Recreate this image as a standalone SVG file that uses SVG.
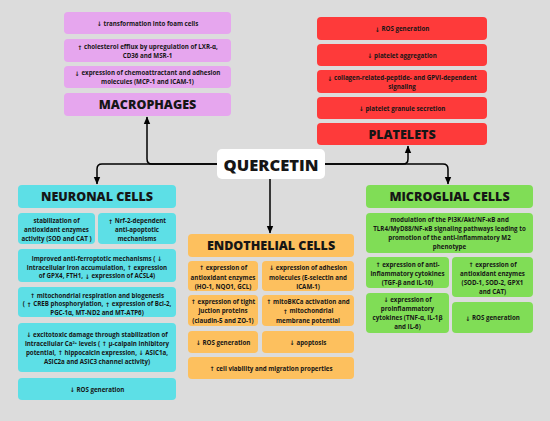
<svg xmlns="http://www.w3.org/2000/svg" width="550" height="421" viewBox="0 0 550 421">
<defs>
<style>
.bg{fill:#dcdcdc}
.mac{fill:#e6a6ee}
.pla{fill:#fe3a3a}
.neu{fill:#5ddfe6}
.end{fill:#fdc05e}
.mic{fill:#80dd56}
.qb{fill:#ffffff}
text{font-family:"Open Sans","Liberation Sans",sans-serif;fill:#161616;text-anchor:middle;dominant-baseline:central}
.t{font-size:6.2px;font-weight:700}
.a{font-family:"DejaVu Sans",sans-serif;font-weight:700}
.h{font-size:12.5px;font-weight:800}
.q{font-size:16.5px;font-weight:800}
.c{fill:none;stroke:#000;stroke-width:1.5}
</style>
<marker id="ah" markerUnits="userSpaceOnUse" markerWidth="8" markerHeight="8" viewBox="0 0 8 8" refX="7" refY="4" orient="auto">
<path d="M0,0.8 L7.5,4 L0,7.2 Z" fill="#000"/>
</marker>
</defs>
<rect class="bg" x="0" y="0" width="550" height="421"/>

<g id="connectors">
<path class="c" d="M217,164 H102 Q97,164 97,169 V184" marker-end="url(#ah)"/>
<path class="c" d="M217,164 H152 Q147,164 147,159 V117" marker-end="url(#ah)"/>
<path class="c" d="M325,164 H403 Q408,164 408,159 V146" marker-end="url(#ah)"/>
<path class="c" d="M325,164 H443 Q448,164 448,169 V184" marker-end="url(#ah)"/>
<path class="c" d="M270,179 V233" marker-end="url(#ah)"/>
</g>

<g id="quercetin">
<rect class="qb" x="217" y="149" width="108" height="30" rx="5"/>
<text class="q" x="271" y="164.5">QUERCETIN</text>
</g>

<g id="macrophages">
<rect class="mac" x="64" y="12" width="167" height="22" rx="4"/>
<text class="t" x="147.5" y="23"><tspan class="a">↓</tspan> transformation into foam cells</text>
<rect class="mac" x="64" y="39" width="167" height="23" rx="4"/>
<text class="t" x="147.5" y="46.5"><tspan class="a">↑</tspan> cholesterol efflux by upregulation of LXR-α,</text>
<text class="t" x="147.5" y="55.2">CD36 and MSR-1</text>
<rect class="mac" x="64" y="66" width="167" height="22" rx="4"/>
<text class="t" x="147.5" y="72.7"><tspan class="a">↓</tspan> expression of chemoattractant and adhesion</text>
<text class="t" x="147.5" y="81.5">molecules (MCP-1 and ICAM-1)</text>
<rect class="mac" x="64" y="93" width="167" height="23" rx="4"/>
<text class="h" x="147.5" y="104.5">MACROPHAGES</text>
</g>

<g id="platelets">
<rect class="pla" x="317" y="17" width="170" height="23" rx="4"/>
<text class="t" x="402" y="28.5"><tspan class="a">↓</tspan> ROS generation</text>
<rect class="pla" x="317" y="44" width="170" height="22" rx="4"/>
<text class="t" x="402" y="55"><tspan class="a">↓</tspan> platelet aggregation</text>
<rect class="pla" x="317" y="70" width="170" height="23" rx="4"/>
<text class="t" x="402" y="77.7"><tspan class="a">↓</tspan> collagen-related-peptide- and GPVI-dependent</text>
<text class="t" x="402" y="86.5">signaling</text>
<rect class="pla" x="317" y="97" width="170" height="22" rx="4"/>
<text class="t" x="402" y="108"><tspan class="a">↓</tspan> platelet granule secretion</text>
<rect class="pla" x="317" y="123" width="170" height="22" rx="4"/>
<text class="h" x="402" y="134">PLATELETS</text>
</g>

<g id="neuronal">
<rect class="neu" x="18" y="185" width="158" height="23" rx="4"/>
<text class="h" x="97" y="196.5">NEURONAL CELLS</text>
<rect class="neu" x="18" y="213" width="77" height="31" rx="4"/>
<text class="t" x="56.5" y="220.5">stabilization of</text>
<text class="t" x="56.5" y="229.3">antioxidant enzymes</text>
<text class="t" x="56.5" y="238.1">activity (SOD and CAT )</text>
<rect class="neu" x="98" y="213" width="78" height="31" rx="4"/>
<text class="t" x="137" y="220.5"><tspan class="a">↑</tspan> Nrf-2-dependent</text>
<text class="t" x="137" y="229.3">anti-apoptotic</text>
<text class="t" x="137" y="238.1">mechanisms</text>
<rect class="neu" x="18" y="249" width="158" height="33" rx="4"/>
<text class="t" x="97" y="258.3">improved anti-ferroptotic mechanisms ( <tspan class="a">↓</tspan></text>
<text class="t" x="97" y="267">intracellular iron accumulation,  <tspan class="a">↑</tspan>  expression</text>
<text class="t" x="97" y="275.7">of GPX4, FTH1,  <tspan class="a">↓</tspan>  expression of ACSL4)</text>
<rect class="neu" x="18" y="287" width="158" height="30" rx="4"/>
<text class="t" x="97" y="295"><tspan class="a">↑</tspan> mitochondrial respiration and biogenesis</text>
<text class="t" x="97" y="303.8">( <tspan class="a">↑</tspan> CREB phosphorylation,  <tspan class="a">↑</tspan>  expression of Bcl-2,</text>
<text class="t" x="97" y="312.6">PGC-1α, MT-ND2 and MT-ATP6)</text>
<rect class="neu" x="18" y="323" width="158" height="49" rx="4"/>
<text class="t" x="97" y="334"><tspan class="a">↓</tspan> excitotoxic damage through stabilization of</text>
<text class="t" x="97" y="343">intracellular Ca²⁺ levels ( <tspan class="a">↑</tspan>  μ-calpain inhibitory</text>
<text class="t" x="97" y="352.2">potential,  <tspan class="a">↑</tspan>  hippocalcin expression, <tspan class="a">↓</tspan> ASIC1a,</text>
<text class="t" x="97" y="361.4">ASIC2a and ASIC3 channel activity)</text>
<rect class="neu" x="18" y="378" width="158" height="22" rx="4"/>
<text class="t" x="97" y="389"><tspan class="a">↓</tspan> ROS generation</text>
</g>

<g id="endothelial">
<rect class="end" x="188" y="234" width="166" height="23" rx="4"/>
<text class="h" x="271" y="245.5">ENDOTHELIAL CELLS</text>
<rect class="end" x="188" y="261" width="70" height="30" rx="4"/>
<text class="t" x="223" y="267.3"><tspan class="a">↑</tspan> expression of</text>
<text class="t" x="223" y="277">antioxidant enzymes</text>
<text class="t" x="223" y="286.5">(HO-1, NQO1, GCL)</text>
<rect class="end" x="262" y="261" width="92" height="30" rx="4"/>
<text class="t" x="308" y="267.3"><tspan class="a">↓</tspan> expression of adhesion</text>
<text class="t" x="308" y="277">molecules (E-selectin and</text>
<text class="t" x="308" y="286.5">ICAM-1)</text>
<rect class="end" x="188" y="295" width="70" height="31" rx="4"/>
<text class="t" x="223" y="301"><tspan class="a">↑</tspan> expression of tight</text>
<text class="t" x="223" y="310.7">juction proteins</text>
<text class="t" x="223" y="320.4">(claudin-5 and ZO-1)</text>
<rect class="end" x="262" y="295" width="92" height="31" rx="4"/>
<text class="t" x="308" y="301"><tspan class="a">↑</tspan> mitoBKCa activation and</text>
<text class="t" x="308" y="310.7"><tspan class="a">↑</tspan>  mitochondrial</text>
<text class="t" x="308" y="320.4">membrane potential</text>
<rect class="end" x="188" y="331" width="70" height="22" rx="4"/>
<text class="t" x="223" y="342"><tspan class="a">↓</tspan> ROS generation</text>
<rect class="end" x="262" y="331" width="92" height="22" rx="4"/>
<text class="t" x="308" y="342"><tspan class="a">↓</tspan> apoptosis</text>
<rect class="end" x="188" y="357" width="166" height="22" rx="4"/>
<text class="t" x="271" y="368"><tspan class="a">↑</tspan> cell viability and migration properties</text>
</g>

<g id="microglial">
<rect class="mic" x="366" y="185" width="167" height="23" rx="4"/>
<text class="h" x="449.5" y="196.5">MICROGLIAL CELLS</text>
<rect class="mic" x="366" y="213" width="167" height="40" rx="4"/>
<text class="t" x="449.5" y="219.5">modulation of the PI3K/Akt/NF-κB and</text>
<text class="t" x="449.5" y="228.4">TLR4/MyD88/NF-κB signaling pathways leading to</text>
<text class="t" x="449.5" y="237.3">promotion of the anti-inflammatory M2</text>
<text class="t" x="449.5" y="246.2">phenotype</text>
<rect class="mic" x="366" y="257" width="83" height="31" rx="4"/>
<text class="t" x="407.5" y="264.3"><tspan class="a">↑</tspan> expression of anti-</text>
<text class="t" x="407.5" y="273.3">inflammatory cytokines</text>
<text class="t" x="407.5" y="282.3">(TGF-β and IL-10)</text>
<rect class="mic" x="452" y="257" width="81" height="40" rx="4"/>
<text class="t" x="492.5" y="264.3"><tspan class="a">↑</tspan> expression of</text>
<text class="t" x="492.5" y="273.3">antioxidant enzymes</text>
<text class="t" x="492.5" y="282.3">(SOD-1, SOD-2, GPX1</text>
<text class="t" x="492.5" y="291.3">and CAT)</text>
<rect class="mic" x="366" y="293" width="83" height="40" rx="4"/>
<text class="t" x="407.5" y="299.3"><tspan class="a">↓</tspan> expression of</text>
<text class="t" x="407.5" y="308.3">proinflammatory</text>
<text class="t" x="407.5" y="317.3">cytokines (TNF-α, IL-1β</text>
<text class="t" x="407.5" y="326.3">and IL-6)</text>
<rect class="mic" x="452" y="302" width="81" height="31" rx="4"/>
<text class="t" x="492.5" y="317.5"><tspan class="a">↓</tspan> ROS generation</text>
</g>
</svg>
